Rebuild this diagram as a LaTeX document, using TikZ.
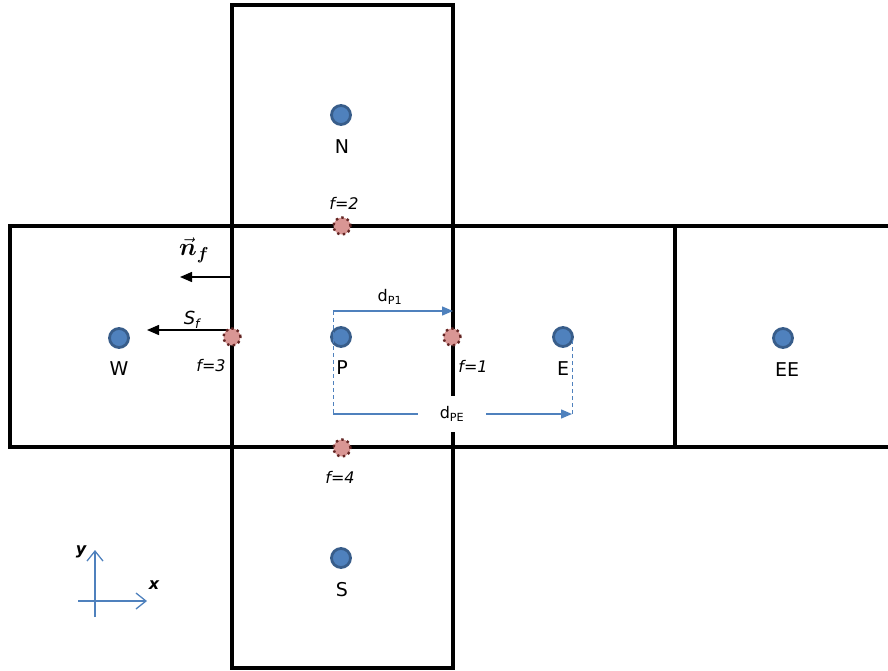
\documentclass[tikz,border=0pt]{standalone}
\usepackage{amsmath,bm}
\usepackage{fontspec}
\setmainfont{DejaVu Sans}
\usetikzlibrary{arrows.meta}
\definecolor{cblue}{HTML}{4F81BD}
\definecolor{cborder}{HTML}{385D8A}
\definecolor{fpink}{HTML}{D99694}
\definecolor{fdark}{HTML}{632523}
\begin{document}
\begin{tikzpicture}[x=1pt,y=-1pt,
  wall/.style={line width=3.6pt, line cap=rect},
  cellpt/.style={circle, fill=cblue, draw=cborder, line width=2.8pt, minimum size=19pt, inner sep=0pt},
  facept/.style={circle, fill=fpink, draw=fdark, line width=2.4pt, dash pattern=on 2.4pt off 3.4pt, minimum size=17pt, inner sep=0pt},
  lbl/.style={font=\fontsize{19}{22}\selectfont, inner sep=0pt},
  flbl/.style={font=\fontsize{16}{18}\selectfont\itshape, inner sep=0pt},
  blk/.style={line width=1.4pt, -{Triangle[length=12pt,width=10pt]}},
  bluearr/.style={draw=cblue, line width=1.4pt, -{Triangle[length=11pt,width=9pt]}, color=cblue},
  bluedash/.style={draw=cblue, line width=1pt, dash pattern=on 4pt off 3pt},
  axis/.style={draw=cblue, line width=1.3pt, -{Straight Barb[length=10pt,width=16pt]}},
  axlbl/.style={font=\fontsize{16}{18}\selectfont\bfseries\itshape, inner sep=0pt}
]
\useasboundingbox (0,0) rectangle (888,670);
% walls
\draw[wall] (232,5) rectangle (453,668);
\draw[wall] (10,226) -- (888,226);
\draw[wall] (10,447) -- (888,447);
\draw[wall] (10,226) -- (10,447);
\draw[wall] (675,226) -- (675,447);

% cell centres
\node[cellpt] (N) at (341,115) {};
\node[cellpt] (P) at (341,337) {};
\node[cellpt] (W) at (119,338) {};
\node[cellpt] (E) at (563,337) {};
\node[cellpt] (EE) at (783,338) {};
\node[cellpt] (S) at (341,558) {};

\node[lbl] (Nl) at (342,147) {N};
\node[lbl] (Pl) at (342,368) {P};
\node[lbl] (Wl) at (119,369) {W};
\node[lbl] (El) at (563,369) {E};
\node[lbl] (EEl) at (787,370) {EE};
\node[lbl] (Sl) at (342,590) {S};

% normal vector and surface vector
\coordinate (nfs) at (231,277);
\coordinate (nfe) at (180,277);
\draw[blk] (nfs) -- (nfe);
\node[inner sep=0pt, font=\fontsize{25}{28}\selectfont] (nfl) at (194,250) {$\vec{\bm{n}}_{\bm{f}}$};
\coordinate (sfs) at (232,330);
\coordinate (sfe) at (147,330);
\draw[blk] (sfs) -- (sfe);
\node[inner sep=0pt, font=\fontsize{18}{20}\selectfont\itshape] (sfl) at (192,320) {S\textsubscript{f}};

% distances
\coordinate (d1s) at (333,311);
\coordinate (d1e) at (453,311);
\coordinate (dpeL) at (333,414);
\coordinate (dpeR) at (572,414);
\coordinate (dpeT) at (572,338);
\draw[bluedash] (d1s) -- (dpeL);
\draw[bluedash] (dpeR) -- (dpeT);
\draw[bluearr] (d1s) -- (d1e);
\draw[bluearr] (dpeL) -- (dpeR);
\node[inner sep=0pt, font=\fontsize{16}{18}\selectfont] (d1l) at (390,297) {d\textsubscript{P1}};
\node[fill=white, minimum width=68pt, minimum height=36pt, inner sep=0pt, font=\fontsize{16}{18}\selectfont] (dpel) at (452,414) {d\textsubscript{PE}};

% face centres
\node[facept] (f1) at (452,337) {};
\node[facept] (f2) at (342,226) {};
\node[facept] (f3) at (232,337) {};
\node[facept] (f4) at (342,448) {};
\node[flbl] (f1l) at (473,366) {f=1};
\node[flbl] (f2l) at (344,203) {f=2};
\node[flbl] (f3l) at (211,366) {f=3};
\node[flbl] (f4l) at (340,477) {f=4};

% axes
\coordinate (yb) at (95,617);
\coordinate (yt) at (95,550);
\coordinate (xl) at (78,601);
\coordinate (xr) at (147,601);
\draw[axis] (yb) -- (yt);
\draw[axis] (xl) -- (xr);
\node[axlbl] (ylab) at (81,552) {y};
\node[axlbl] (xlab) at (154,585) {x};
\end{tikzpicture}
\end{document}
